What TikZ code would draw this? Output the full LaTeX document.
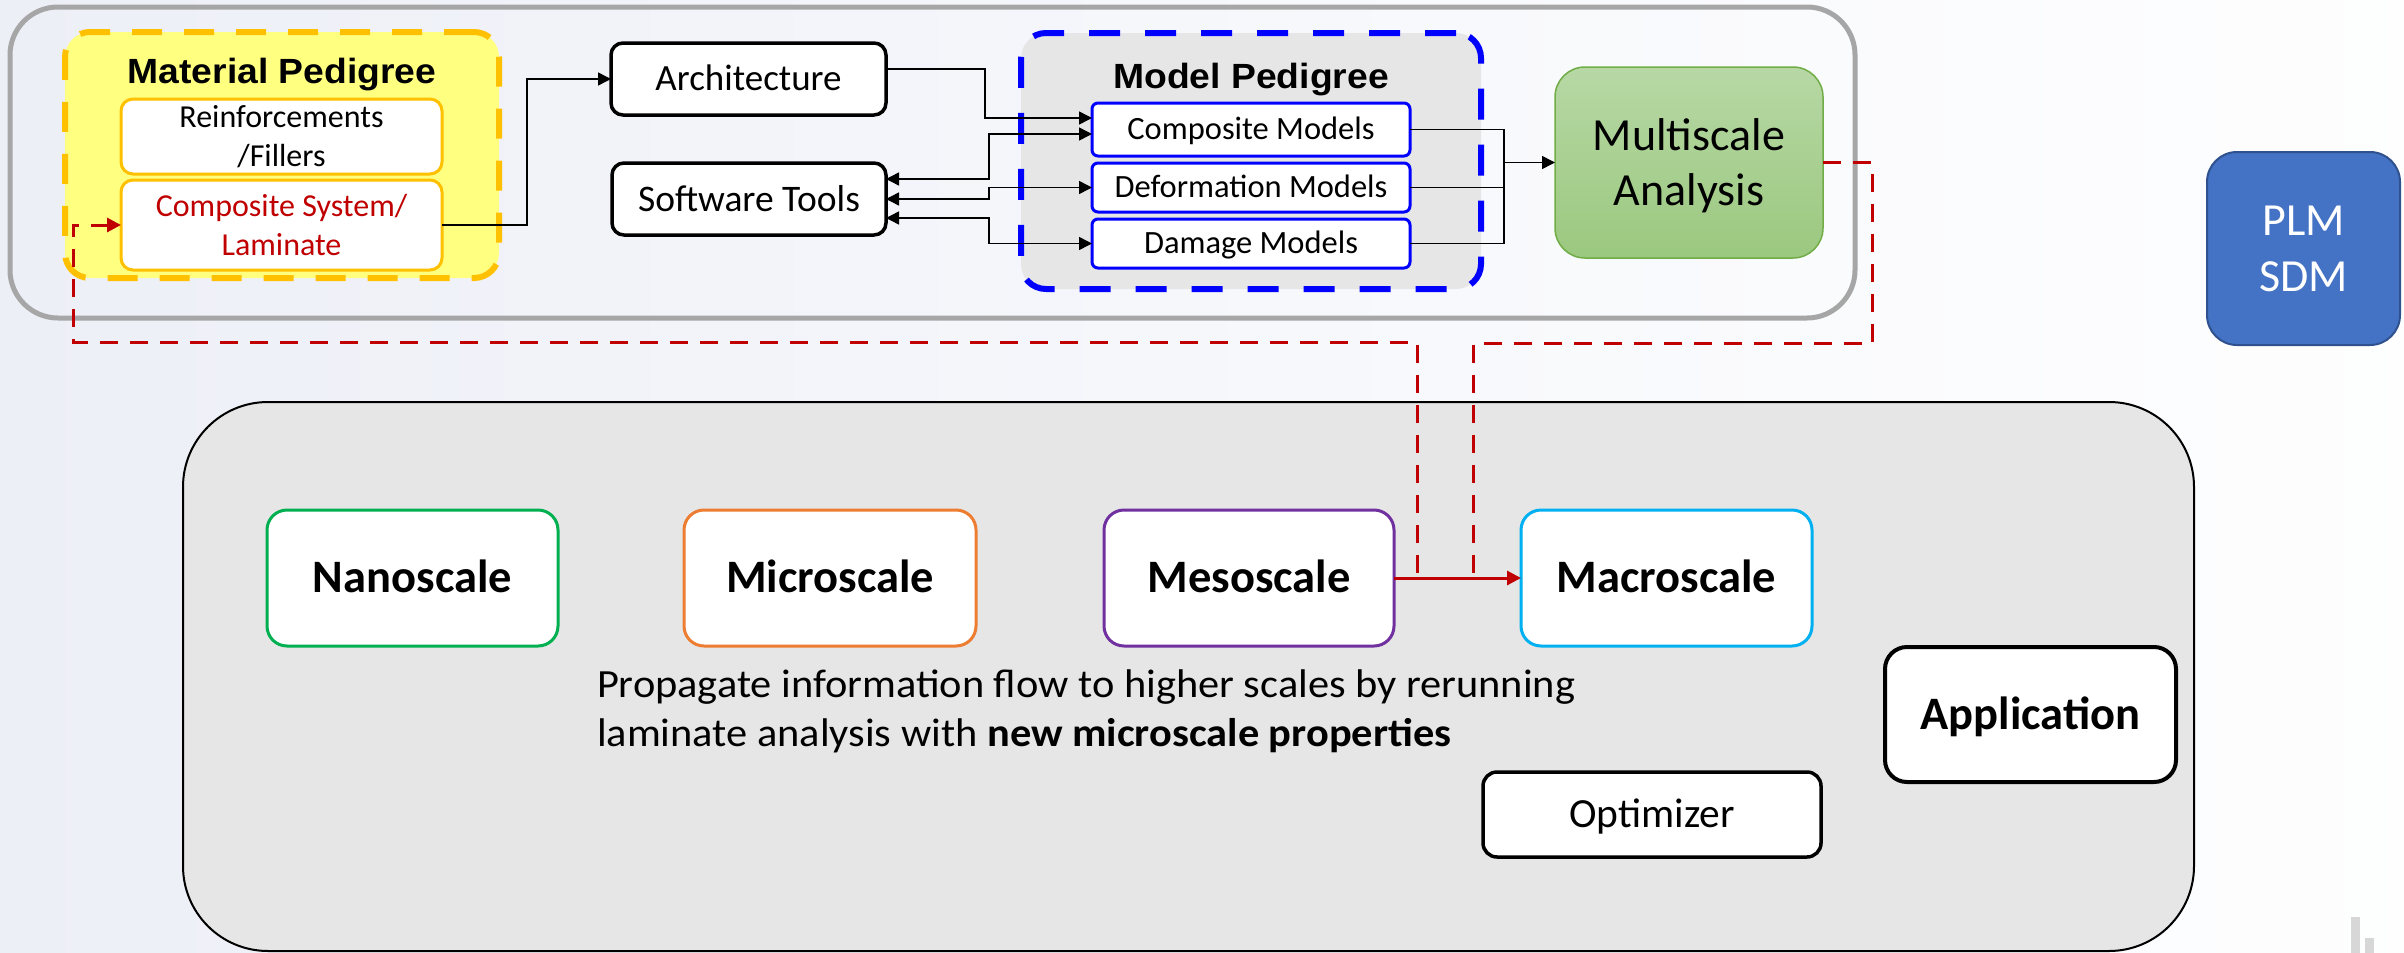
\documentclass[tikz,border=0pt]{standalone}
\usepackage{fontspec}
\setmainfont{Carlito}
\newfontfamily\arialfam{Liberation Sans}[FakeStretch=1.065]
\newfontfamily\descfam{Carlito}[FakeStretch=1.06]
\usetikzlibrary{arrows.meta,calc}
\newcommand{\fsz}[2]{\fontsize{#1}{#2}\selectfont}
\definecolor{bgA}{RGB}{214,218,233}
\definecolor{bgB}{RGB}{226,229,240}
\definecolor{bgC}{RGB}{237,239,247}
\definecolor{bgD}{RGB}{248,249,252}
\definecolor{outgray}{RGB}{166,166,166}
\definecolor{yelfill}{RGB}{255,255,128}
\definecolor{orng}{RGB}{255,192,0}
\definecolor{pblue}{RGB}{0,0,255}
\definecolor{lgray}{RGB}{230,230,230}
\definecolor{dred}{RGB}{192,0,0}
\definecolor{grtop}{RGB}{183,216,165}
\definecolor{grbot}{RGB}{155,200,127}
\definecolor{grline}{RGB}{112,173,71}
\definecolor{nanoc}{RGB}{0,176,80}
\definecolor{microc}{RGB}{237,125,49}
\definecolor{mesoc}{RGB}{112,48,160}
\definecolor{macroc}{RGB}{0,176,240}
\definecolor{plmfill}{RGB}{68,114,196}
\definecolor{plmline}{RGB}{47,82,143}
\definecolor{barc}{RGB}{215,215,215}
\pgfdeclarehorizontalshading{bgshade}{100bp}{color(0bp)=(bgA); color(8bp)=(bgB); color(25bp)=(bgC); color(55bp)=(bgD); color(80bp)=(white); color(100bp)=(white)}
\begin{document}
\begin{tikzpicture}[x=1pt,y=-1pt,
  every node/.style={inner sep=0pt,outer sep=0pt},
  conn/.style={draw=black,line width=1.5pt},
  arr/.style={conn,-{Triangle[length=13pt,width=13pt]}},
  biarr/.style={conn,{Triangle[length=13pt,width=13pt]}-{Triangle[length=13pt,width=13pt]}},
  reddash/.style={draw=dred,line width=3pt,dash pattern=on 18pt off 12pt},
  redarr/.style={draw=dred,line width=3pt,-{Triangle[length=14pt,width=14pt]}},
  blackbox/.style={draw=black,fill=white,line width=3.5pt,rounded corners=12pt},
  matbox/.style={draw=orng,fill=white,line width=3pt,rounded corners=12pt,align=center,minimum width=321pt,font=\fsz{32}{39.5}},
  modbox/.style={draw=pblue,fill=white,line width=3pt,rounded corners=6pt,minimum width=318pt,font=\fsz{32.5}{38},text height=20.9pt,text depth=0pt},
  scalebox/.style={fill=white,line width=3pt,rounded corners=20pt,minimum width=291pt,minimum height=136pt,font=\bfseries\fsz{46.5}{56},text height=29.9pt,text depth=0pt},
  header/.style={font=\arialfam\bfseries\fsz{35}{42},anchor=base}
]
\useasboundingbox (0,0) rectangle (2404,953);
\shade[shading=bgshade] (0,0) rectangle (2404,953);
% faint bars bottom right
\fill[barc] (2351,917) rectangle (2360,953);
\fill[barc] (2365,938) rectangle (2374,953);

% containers
\node[draw=outgray,line width=5pt,rounded corners=48pt,minimum width=1845pt,minimum height=311pt] (upper) at (932.5,162.5) {};
\node[draw=black,line width=2pt,fill=lgray,rounded corners=85pt,minimum width=2011pt,minimum height=549pt] (lower) at (1188.5,676.5) {};
\node[draw=orng,fill=yelfill,line width=6pt,dash pattern=on 30pt off 22pt,rounded corners=25pt,minimum width=434pt,minimum height=246pt] (matped) at (282,155) {};
\node[draw=pblue,fill=lgray,line width=6pt,dash pattern=on 31pt off 25pt,rounded corners=25pt,minimum width=460pt,minimum height=256pt] (modped) at (1251,161) {};

% titles
\node[header] (mattitle) at (282,83) {Material Pedigree};
\node[header] (modtitle) at (1251,88) {Model Pedigree};

% material boxes
\node[matbox,minimum height=75pt] (reinf) at (281.5,136.5) {Reinforcements\\/Fillers};
\node[matbox,minimum height=90pt,text=dred] (comp) at (281.5,225) {Composite System/\\Laminate};

% architecture / software
\node[blackbox,minimum width=275pt,minimum height=72pt,font=\fsz{37}{44},text height=23.8pt,text depth=0pt] (arch) at (748.5,79) {Architecture};
\node[blackbox,minimum width=274pt,minimum height=72pt,font=\fsz{37.5}{44},text height=24.1pt,text depth=0pt] (soft) at (749,199) {Software Tools};

% model boxes
\node[modbox,minimum height=53pt] (cm) at (1251,129.5) {Composite Models};
\node[modbox,minimum height=49pt] (dm) at (1251,187.5) {Deformation Models};
\node[modbox,minimum height=49pt] (gm) at (1251,243.5) {Damage Models};

% multiscale analysis
\node[draw=grline,line width=1.5pt,top color=grtop,bottom color=grbot,rounded corners=30pt,minimum width=268pt,minimum height=191pt,align=center,font=\fsz{46}{55},text depth=0pt] (multi) at (1689,162.5) {Multiscale\\Analysis};

% PLM SDM
\node[draw=plmline,line width=2pt,fill=plmfill,rounded corners=30pt,minimum width=193pt,minimum height=193pt,align=center,text=white,font=\fsz{46}{56}] (plm) at (2303.5,248.5) {PLM\\SDM};

% scales
\node[scalebox,draw=nanoc] (nano) at (412.5,578) {Nanoscale};
\node[scalebox,draw=microc,minimum width=292pt] (micro) at (830,578) {Microscale};
\node[scalebox,draw=mesoc,minimum width=290pt] (meso) at (1249,578) {Mesoscale};
\node[scalebox,draw=macroc] (macro) at (1666.5,578) {Macroscale};

% description
\node[anchor=base west,font=\descfam\fsz{40}{49}] (desc1) at (597,697) {Propagate information flow to higher scales by rerunning};
\node[anchor=base west,font=\descfam\fsz{40}{49}] (desc2) at (597,746) {laminate analysis with \textbf{new microscale properties}};

% application / optimizer
\node[blackbox,line width=4pt,rounded corners=22pt,minimum width=291pt,minimum height=135pt,font=\bfseries\fsz{46.5}{56},text height=29.9pt,text depth=0pt] (app) at (2030.5,714.5) {Application};
\node[blackbox,rounded corners=14pt,minimum width=338pt,minimum height=85pt,font=\fsz{41.5}{50},text height=26.7pt,text depth=0pt] (opt) at (1652,814.5) {Optimizer};

% black connectors
\draw[arr] (comp.east) -| (527,79) -- (arch.west);
\draw[arr] ([yshift=10pt]arch.east) -- (985,69) |- ([yshift=11.5pt]cm.west);
\draw[biarr] ([yshift=20pt]soft.east) -| (989,134) -- ([yshift=-4.5pt]cm.west);
\draw[biarr] (soft.east) -| (989,187.5) -- (dm.west);
\draw[biarr] ([yshift=-19pt]soft.east) -| (989,243.5) -- (gm.west);
\coordinate (jM) at (1504,162.5);
\draw[conn] (cm.east) -| (jM);
\draw[conn] (dm.east) -| (jM);
\draw[conn] (gm.east) -| (jM);
\draw[arr] (jM) -- (multi.west);

% red connectors
\draw[redarr] (meso.east) -- (macro.west);
\coordinate (jA) at (1473,573);
\coordinate (jB) at (1417,573);
\draw[reddash] (multi.east) -- (1872,162.5) -- (1872,343) -| (jA);
\draw[reddash] (jB) -- (1417,342) -- (73,342) |- ([xshift=-14pt]comp.west);
\draw[draw=dred,line width=3pt,-{Triangle[length=14pt,width=14pt]}] ([xshift=-22pt]comp.west) -- (comp.west);
\end{tikzpicture}
\end{document}
